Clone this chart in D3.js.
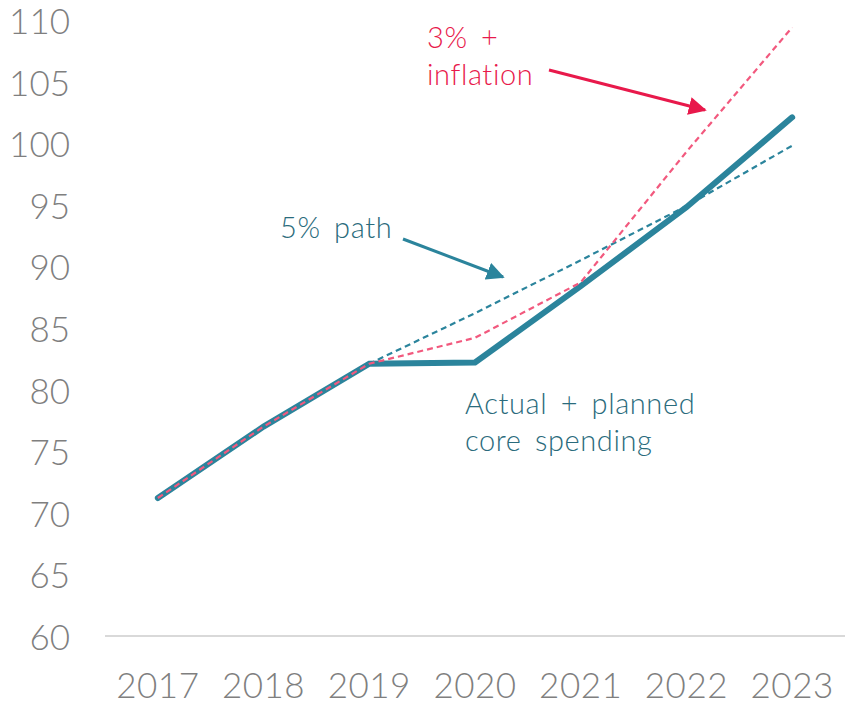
<!DOCTYPE html>
<html>
<head>
<meta charset="utf-8">
<script src="https://cdn.jsdelivr.net/npm/d3@7"></script>
<style>
  body { margin: 0; background: #fff; }
  text { font-family: "Lato", "DejaVu Sans", sans-serif; font-weight: 300; }
</style>
</head>
<body>
<svg id="chart" width="850" height="707"></svg>
<script>
// Core spending, index values by year
const years = ["2017", "2018", "2019", "2020", "2021", "2022", "2023"];
const actualPlanned = [71.2, 77.0, 82.1, 82.2, 88.4, 94.8, 102.1];
const fivePctPath   = [71.2, 77.0, 82.1, 86.2, 90.5, 94.9, 99.8];
const threePctInfl  = [71.2, 77.0, 82.1, 84.2, 88.7, 99.3, 109.4];
const yTicks = [60, 65, 70, 75, 80, 85, 90, 95, 100, 105, 110];

const teal = "#2b849c";
const tealText = "#2a6b7c";
const pinkLine = "#f2597e";
const pinkText = "#e8194b";
const grey = "#7f7f7f";

const svg = d3.select("#chart");

const x = d3.scalePoint().domain(years).range([105, 845]).padding(0.5);
const y = d3.scaleLinear().domain([60, 110]).range([636, 20]);

// y tick labels
svg.append("g").selectAll("text")
  .data(yTicks).join("text")
  .attr("x", 70).attr("y", d => y(d))
  .attr("text-anchor", "end").attr("dominant-baseline", "central")
  .attr("fill", grey).attr("font-size", 35)
  .text(d => d);

// baseline
svg.append("line")
  .attr("x1", 105).attr("x2", 845).attr("y1", y(60)).attr("y2", y(60))
  .attr("stroke", "#d9d9d9").attr("stroke-width", 2);

// x tick labels
svg.append("g").selectAll("text")
  .data(years).join("text")
  .attr("x", d => x(d)).attr("y", 698)
  .attr("text-anchor", "middle")
  .attr("fill", grey).attr("font-size", 35)
  .attr("letter-spacing", 0.5)
  .text(d => d);

const line = d3.line().x((d, i) => x(years[i])).y(d => y(d));

svg.append("path").datum(actualPlanned)
  .attr("d", line).attr("fill", "none")
  .attr("stroke", teal).attr("stroke-width", 6)
  .attr("stroke-linecap", "round").attr("stroke-linejoin", "miter");

svg.append("path").datum(fivePctPath)
  .attr("d", line).attr("fill", "none")
  .attr("stroke", teal).attr("stroke-width", 2.2)
  .attr("stroke-dasharray", "6,4");

svg.append("path").datum(threePctInfl)
  .attr("d", line).attr("fill", "none")
  .attr("stroke", pinkLine).attr("stroke-width", 2.2)
  .attr("stroke-dasharray", "6,4");

// arrowheads
const defs = svg.append("defs");
function marker(id, color) {
  defs.append("marker").attr("id", id)
    .attr("viewBox", "0 0 10 10").attr("refX", 9).attr("refY", 5)
    .attr("markerWidth", 6).attr("markerHeight", 6)
    .attr("markerUnits", "strokeWidth").attr("orient", "auto")
    .append("path").attr("d", "M0,0 L10,5 L0,10 Z").attr("fill", color);
}
marker("arrPink", pinkText);
marker("arrTeal", teal);

// annotations
function label(lines, x0, y0, color) {
  const t = svg.append("text").attr("fill", color).attr("font-size", 29)
    .attr("letter-spacing", 0.6).attr("word-spacing", 5);
  lines.forEach((s, i) => t.append("tspan").attr("x", x0).attr("y", y0 + i * 37).text(s));
}
label(["3% +", "inflation"], 427, 48, pinkText);
label(["5% path"], 280, 238, tealText);
label(["Actual + planned", "core spending"], 465, 414, tealText);

svg.append("line")
  .attr("x1", 549).attr("y1", 70).attr("x2", 705).attr("y2", 110)
  .attr("stroke", pinkText).attr("stroke-width", 3)
  .attr("marker-end", "url(#arrPink)");
svg.append("line")
  .attr("x1", 403).attr("y1", 239).attr("x2", 503).attr("y2", 277)
  .attr("stroke", teal).attr("stroke-width", 3)
  .attr("marker-end", "url(#arrTeal)");
</script>
</body>
</html>
